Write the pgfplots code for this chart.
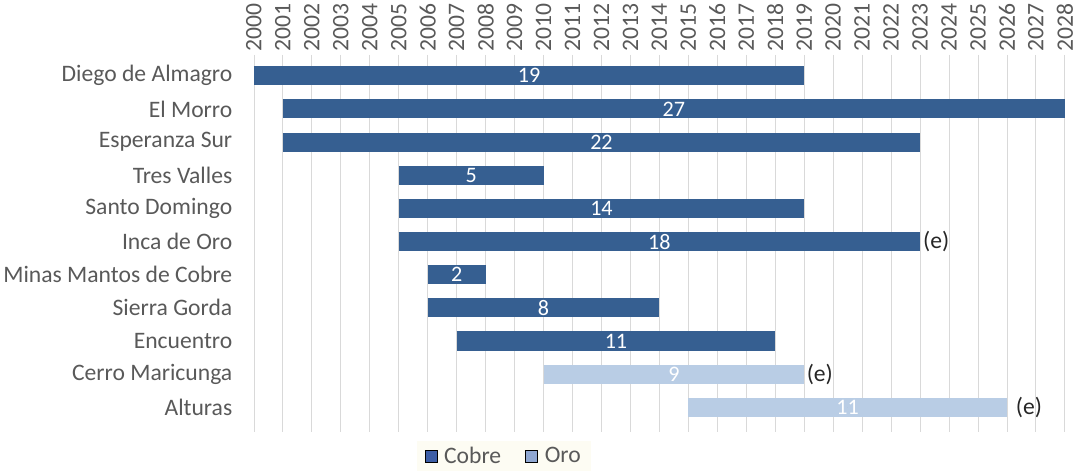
\documentclass[border=0pt]{standalone}
\usepackage{fontspec}
\setmainfont{Carlito}
\usepackage{pgfplots}
\pgfplotsset{compat=1.18}
\definecolor{cobre}{HTML}{365F91}
\definecolor{oro}{HTML}{B9CDE5}
\definecolor{cobreleg}{HTML}{3D5EA6}
\definecolor{oroleg}{HTML}{8FA7D2}
\definecolor{txt}{HTML}{595959}
\definecolor{etxt}{HTML}{262626}
\definecolor{gridc}{HTML}{D9D9D9}
\definecolor{legbg}{HTML}{FDFCF3}
\newcommand{\bfs}{\fontsize{23.5}{27}\selectfont}
\newcommand{\lfs}{\fontsize{22}{26}\selectfont}
\begin{document}
\begin{tikzpicture}
\begin{axis}[
  scale only axis, width=807pt, height=363pt,
  xmin=2000, xmax=2028, ymin=-0.55, ymax=10.45,
  xtick={2000,...,2028},
  xticklabel pos=upper,
  xticklabel style={rotate=90, anchor=west, font=\bfs, text=txt},
  /pgf/number format/1000 sep={},
  /pgf/number format/assume math mode=true,
  ytick={0,...,10},
  yticklabels={Alturas, Cerro Maricunga, Encuentro\ , Sierra Gorda, Minas Mantos de Cobre, Inca de Oro, Santo Domingo, Tres Valles, Esperanza Sur\ , El Morro, Diego de Almagro},
  yticklabel style={font=\bfs, text=txt, xshift=-12pt},
  axis line style={draw=none},
  major tick length=6pt, tick align=outside,
  xtick style={draw=gridc, line width=0.8pt},
  ytick style={draw=none},
  xmajorgrids, grid style={draw=gridc, line width=0.8pt},
  clip=false,
  legend columns=2,
  legend style={at={(0.308,0)}, anchor=north, yshift=-15pt, fill=legbg, draw=none, font=\bfs, text=txt, inner xsep=8pt, inner ysep=4pt,
    /tikz/every odd column/.append style={column sep=5pt},
    /tikz/every even column/.append style={column sep=22pt}},
  legend image code/.code={\fill[#1] (0pt,-6pt) rectangle (12pt,6pt);},
]
% Cobre bars
\addplot[draw=cobre, line width=19pt, forget plot] coordinates {(2000,10) (2019,10)};
\addplot[draw=cobre, line width=19pt, forget plot] coordinates {(2001,9) (2028,9)};
\addplot[draw=cobre, line width=19pt, forget plot] coordinates {(2001,8) (2023,8)};
\addplot[draw=cobre, line width=19pt, forget plot] coordinates {(2005,7) (2010,7)};
\addplot[draw=cobre, line width=19pt, forget plot] coordinates {(2005,6) (2019,6)};
\addplot[draw=cobre, line width=19pt, forget plot] coordinates {(2005,5) (2023,5)};
\addplot[draw=cobre, line width=19pt, forget plot] coordinates {(2006,4) (2008,4)};
\addplot[draw=cobre, line width=19pt, forget plot] coordinates {(2006,3) (2014,3)};
\addplot[draw=cobre, line width=19pt, forget plot] coordinates {(2007,2) (2018,2)};
% Oro bars
\addplot[draw=oro, line width=19pt, forget plot] coordinates {(2010,1) (2019,1)};
\addplot[draw=oro, line width=19pt, forget plot] coordinates {(2015,0) (2026,0)};
% duration labels
\addplot[only marks, mark=*, mark size=0pt, mark options={draw=none, fill=none}, forget plot,
  point meta=explicit symbolic, nodes near coords,
  nodes near coords style={font=\lfs, text=white, anchor=center}]
  coordinates {(2009.5,10) [19] (2014.5,9) [27] (2012,8) [22] (2007.5,7) [5] (2012,6) [14] (2014,5) [18] (2007,4) [2] (2010,3) [8] (2012.5,2) [11] (2014.5,1) [9] (2020.5,0) [11]};
% estimate markers
\addplot[only marks, mark=*, mark size=0pt, mark options={draw=none, fill=none}, forget plot,
  point meta=explicit symbolic, nodes near coords,
  nodes near coords style={font=\bfs, text=etxt, anchor=west, inner xsep=0pt}]
  coordinates {(2023.1,5) [(e)] (2019.08,1) [(e)] (2026.3,0) [(e)]};
\addlegendimage{fill=cobreleg}
\addlegendentry{Cobre}
\addlegendimage{fill=oroleg}
\addlegendentry{Oro}
\end{axis}
\path (current axis.north east) ++(14pt,0pt);
\end{tikzpicture}
\end{document}
